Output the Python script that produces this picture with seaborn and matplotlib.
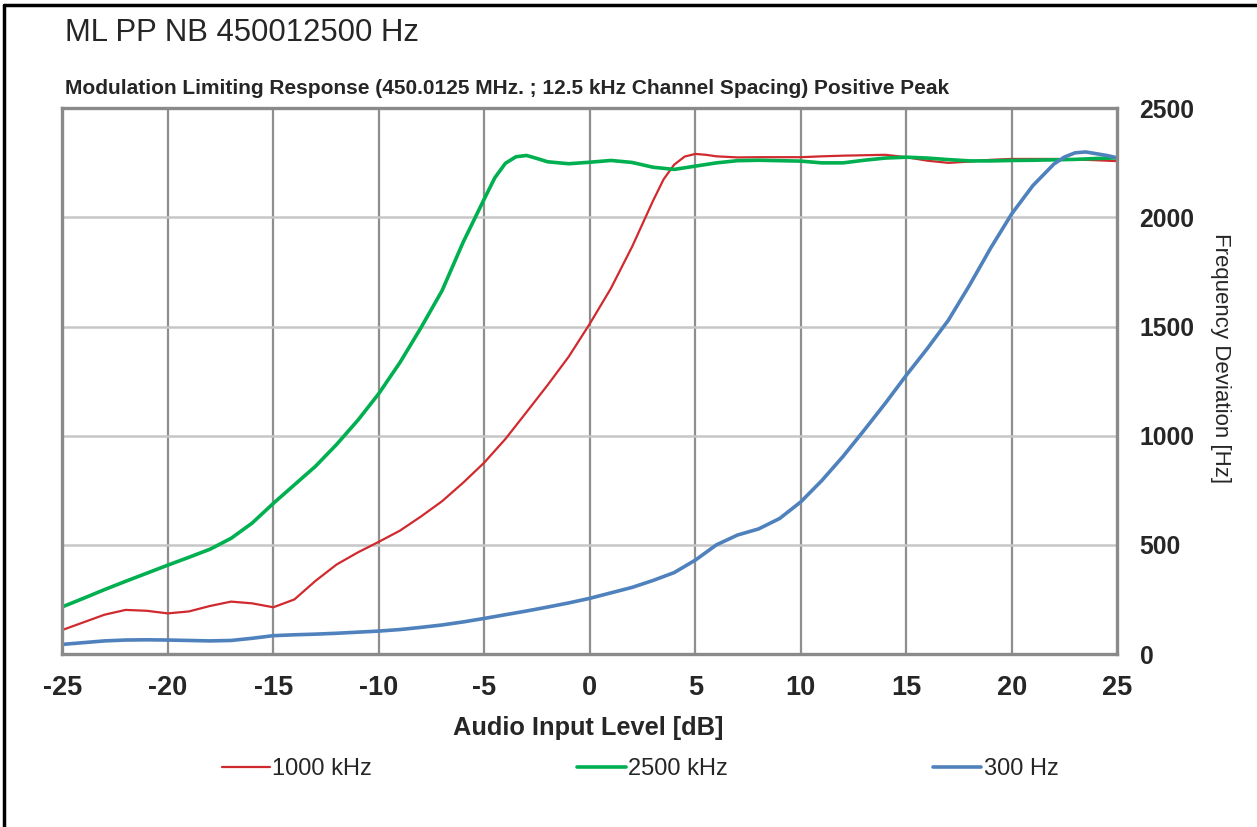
import matplotlib
matplotlib.use("Agg")
import matplotlib.pyplot as plt
from matplotlib.lines import Line2D
import seaborn as sns
import pandas as pd

# ---- data ----
levels_1000 = [-25, -24, -23, -22, -21, -20, -19, -18, -17, -16,
               -15, -14, -13, -12, -11, -10, -9, -8, -7, -6,
               -5, -4, -3, -2, -1, 0, 1, 2, 3, 3.5, 4, 4.5,
               5, 5.5, 6, 7, 8, 9, 10, 11, 12, 13, 14,
               15, 16, 17, 18, 19, 20, 21, 22, 23, 24, 25]
dev_1000 = [110, 145, 180, 202, 198, 186, 195, 220, 240, 232,
            214, 250, 335, 410, 465, 514, 565, 630, 700, 785,
            877, 985, 1108, 1232, 1362, 1513, 1675, 1865, 2077, 2175, 2242, 2279,
            2291, 2287, 2280, 2275, 2276, 2276, 2276, 2280, 2283, 2285, 2287,
            2276, 2260, 2250, 2256, 2264, 2268, 2268, 2268, 2266, 2262, 2258]

levels_2500 = [-25, -24, -23, -22, -21, -20, -19, -18, -17, -16,
               -15, -14, -13, -12, -11, -10, -9, -8, -7, -6,
               -5, -4.5, -4, -3.5, -3, -2.5, -2, -1, 0, 1, 2, 3, 4,
               5, 6, 7, 8, 9, 10, 11, 12, 13, 14,
               15, 16, 17, 18, 19, 20, 21, 22, 23, 24, 25]
dev_2500 = [216, 255, 295, 333, 370, 407, 443, 480, 530, 600,
            690, 775, 860, 960, 1070, 1193, 1335, 1495, 1665, 1887,
            2085, 2182, 2248, 2278, 2284, 2270, 2255, 2246, 2253, 2261, 2252, 2230, 2220,
            2235, 2250, 2260, 2262, 2260, 2258, 2250, 2250, 2262, 2272,
            2276, 2272, 2265, 2259, 2259, 2261, 2262, 2264, 2266, 2270, 2273]

levels_300 = [-25, -24, -23, -22, -21, -20, -19, -18, -17, -16,
              -15, -14, -13, -12, -11, -10, -9, -8, -7, -6,
              -5, -4, -3, -2, -1, 0, 1, 2, 3, 4,
              5, 6, 7, 8, 9, 10, 11, 12, 13, 14,
              15, 16, 17, 18, 19, 20, 21, 22, 22.5, 23, 23.5, 24, 24.5, 25]
dev_300 = [44, 52, 60, 64, 65, 64, 62, 60, 62, 72,
           84, 88, 91, 95, 100, 105, 112, 122, 133, 147,
           163, 180, 197, 215, 234, 255, 280, 305, 337, 373,
           430, 500, 545, 573, 621, 697, 795, 905, 1025, 1148,
           1277, 1400, 1530, 1690, 1860, 2017, 2146, 2245, 2277, 2296, 2300, 2292, 2284, 2273]

series_names = ["1000 kHz", "2500 kHz", "300 Hz"]
series_colors = ["#D02A2E", "#00B050", "#4F81BD"]
series_widths = [1.6, 2.6, 2.6]

x_ticks = [-25, -20, -15, -10, -5, 0, 5, 10, 15, 20, 25]
y_ticks = [0, 500, 1000, 1500, 2000, 2500]

title_text = "ML PP NB 450012500 Hz"
subtitle_text = ("Modulation Limiting Response (450.0125 MHz. ; 12.5 kHz Channel "
                 "Spacing) Positive Peak")
x_label = "Audio Input Level [dB]"
y_label = "Frequency Deviation [Hz]"

# ---- build table ----
frames = []
for name, lv, vals in zip(series_names, [levels_1000, levels_2500, levels_300],
                          [dev_1000, dev_2500, dev_300]):
    frames.append(pd.DataFrame({"level": lv, "dev": vals, "series": name}))
df = pd.concat(frames, ignore_index=True)

sns.set_style("white")
plt.rcParams["font.family"] = ["Liberation Sans", "DejaVu Sans"]

W, H = 1257, 827
fig = plt.figure(figsize=(W / 100, H / 100), dpi=100)
fig.patch.set_facecolor("white")

L, R, T, B = 62.3, 1117.3, 108.3, 654.0
ax = fig.add_axes([L / W, 1 - B / H, (R - L) / W, (B - T) / H])

for name, col, lw in zip(series_names, series_colors, series_widths):
    sns.lineplot(data=df[df["series"] == name], x="level", y="dev", ax=ax,
                 color=col, linewidth=lw, label=name, legend=False)

ax.set_xlim(-25, 25)
ax.set_ylim(0, 2500)
ax.set_xticks(x_ticks)
ax.set_yticks(y_ticks)
ax.set_xticklabels([str(v) for v in x_ticks], fontsize=19.5, fontweight="bold")
ax.set_yticklabels([str(v) for v in y_ticks], fontsize=17.8, fontweight="bold")
ax.yaxis.tick_right()
ax.tick_params(axis="both", length=0)
ax.tick_params(axis="x", pad=15)
ax.tick_params(axis="y", pad=16)
for lbl in ax.get_yticklabels():
    lbl.set_ha("left")

# grid
for xv in x_ticks[1:-1]:
    ax.axvline(xv, color="#8E8E8E", linewidth=1.6, zorder=0)
for yv in y_ticks[1:-1]:
    ax.axhline(yv, color="#C6C6C6", linewidth=1.8, zorder=0)

for sp in ax.spines.values():
    sp.set_visible(True)
    sp.set_color("#8A8A8A")
    sp.set_linewidth(2.4)

ax.set_xlabel(x_label, fontsize=18.3, fontweight="bold")
ax.xaxis.set_label_coords((588 - L) / (R - L), (B - 728) / (B - T))
ax.xaxis.label.set_va("center")
ax.set_ylabel(y_label, fontsize=16, rotation=-90)
ax.yaxis.set_label_position("right")
ax.yaxis.set_label_coords((1220 - L) / (R - L), (B - 358) / (B - T))
ax.yaxis.label.set_va("center")

# titles
fig.text(65 / W, 1 - 33 / H, title_text, fontsize=22.4, ha="left", va="center")
fig.text(65 / W, 1 - 88 / H, subtitle_text, fontsize=15, fontweight="bold",
         ha="left", va="center")

# legend
handles = ax.get_lines()[:3]
fig.legend(handles, series_names, loc="center", bbox_to_anchor=(640 / W, 1 - 769 / H),
           ncol=3, frameon=False, fontsize=17, handlelength=2.05, handletextpad=0.09,
           columnspacing=8.7)

# outer frame lines
fig.add_artist(Line2D([4 / W, 1], [1 - 5 / H, 1 - 5 / H], color="black", linewidth=2.5,
                      transform=fig.transFigure))
fig.add_artist(Line2D([4 / W, 4 / W], [0, 1 - 5 / H], color="black", linewidth=2.5,
                      transform=fig.transFigure))

fig.savefig("out.png", dpi=100, facecolor="white")
